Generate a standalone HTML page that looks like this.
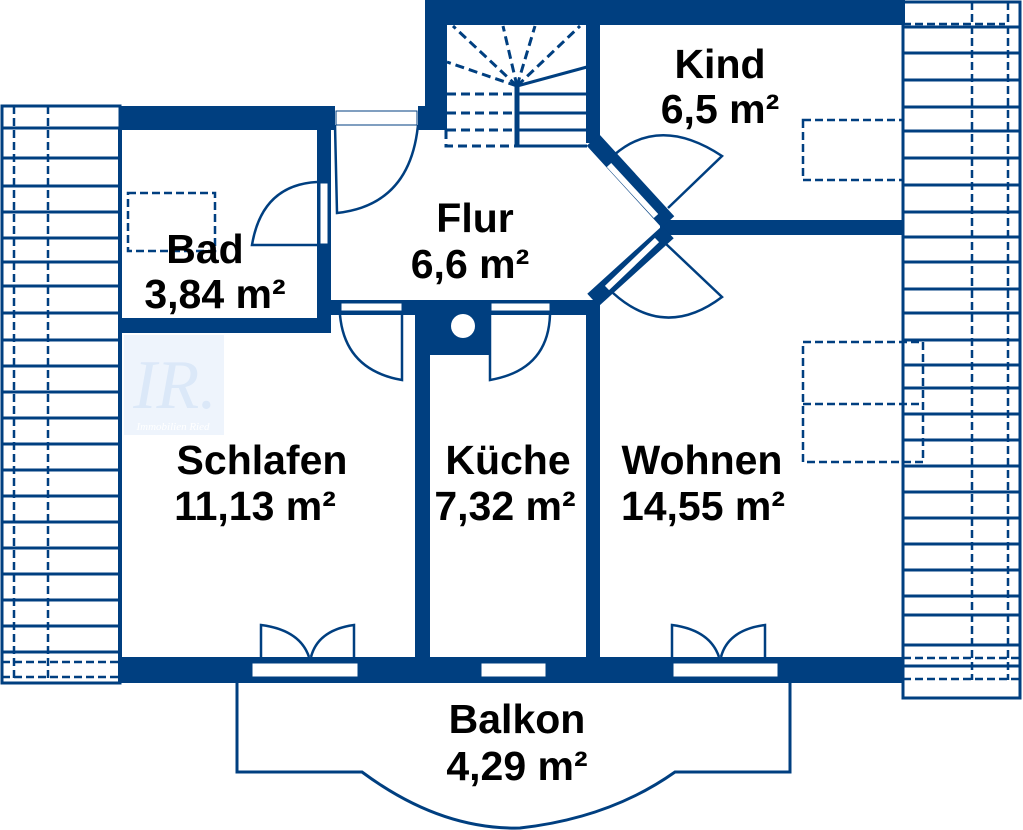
<!DOCTYPE html>
<html><head><meta charset="utf-8"><style>
html,body{margin:0;padding:0;background:#fff;}
svg{display:block;}
text{font-family:"Liberation Sans",sans-serif;font-weight:bold;font-size:41px;fill:#000;text-anchor:middle;}
</style></head><body>
<svg width="1023" height="830" viewBox="0 0 1023 830" xmlns="http://www.w3.org/2000/svg">
<g stroke="#003f80" fill="none">
<!-- left panel -->
<rect x="2" y="106" width="118" height="577" stroke-width="3"/>
<g stroke-width="3">
<line x1="2" y1="128" x2="120" y2="128"/><line x1="2" y1="158" x2="120" y2="158"/><line x1="2" y1="186" x2="120" y2="186"/><line x1="2" y1="212" x2="120" y2="212"/><line x1="2" y1="238" x2="120" y2="238"/><line x1="2" y1="262" x2="120" y2="262"/><line x1="2" y1="286" x2="120" y2="286"/><line x1="2" y1="313" x2="120" y2="313"/><line x1="2" y1="340" x2="120" y2="340"/><line x1="2" y1="366" x2="120" y2="366"/><line x1="2" y1="392" x2="120" y2="392"/><line x1="2" y1="418" x2="120" y2="418"/><line x1="2" y1="444" x2="120" y2="444"/><line x1="2" y1="470" x2="120" y2="470"/><line x1="2" y1="496" x2="120" y2="496"/><line x1="2" y1="522" x2="120" y2="522"/><line x1="2" y1="548" x2="120" y2="548"/><line x1="2" y1="574" x2="120" y2="574"/><line x1="2" y1="600" x2="120" y2="600"/><line x1="2" y1="626" x2="120" y2="626"/><line x1="2" y1="652" x2="120" y2="652"/>
</g>
<g stroke-width="2.5" stroke-dasharray="8,4">
<line x1="14" y1="106" x2="14" y2="683"/><line x1="48" y1="106" x2="48" y2="683"/>
<line x1="2" y1="662" x2="120" y2="662"/><line x1="2" y1="677" x2="120" y2="677"/>
</g>
<!-- right panel -->
<rect x="903" y="2" width="117" height="696" stroke-width="3"/>
<g stroke-width="3">
<line x1="903" y1="27" x2="1020" y2="27"/><line x1="903" y1="53" x2="1020" y2="53"/><line x1="903" y1="80" x2="1020" y2="80"/><line x1="903" y1="107" x2="1020" y2="107"/><line x1="903" y1="131" x2="1020" y2="131"/><line x1="903" y1="158" x2="1020" y2="158"/><line x1="903" y1="185" x2="1020" y2="185"/><line x1="903" y1="212" x2="1020" y2="212"/><line x1="903" y1="237" x2="1020" y2="237"/><line x1="903" y1="262" x2="1020" y2="262"/><line x1="903" y1="289" x2="1020" y2="289"/><line x1="903" y1="313" x2="1020" y2="313"/><line x1="903" y1="340" x2="1020" y2="340"/><line x1="903" y1="365" x2="1020" y2="365"/><line x1="903" y1="388" x2="1020" y2="388"/><line x1="903" y1="414" x2="1020" y2="414"/><line x1="903" y1="440" x2="1020" y2="440"/><line x1="903" y1="466" x2="1020" y2="466"/><line x1="903" y1="492" x2="1020" y2="492"/><line x1="903" y1="518" x2="1020" y2="518"/><line x1="903" y1="544" x2="1020" y2="544"/><line x1="903" y1="570" x2="1020" y2="570"/><line x1="903" y1="596" x2="1020" y2="596"/><line x1="903" y1="615" x2="1020" y2="615"/><line x1="903" y1="645" x2="1020" y2="645"/><line x1="903" y1="666" x2="1020" y2="666"/>
</g>
<g stroke-width="2.5" stroke-dasharray="8,4">
<line x1="972" y1="2" x2="972" y2="680"/><line x1="1008" y1="2" x2="1008" y2="680"/>
<line x1="903" y1="24" x2="1005" y2="24"/>
<line x1="903" y1="658" x2="1020" y2="658"/><line x1="903" y1="679" x2="1020" y2="679"/>
<rect x="803" y="120" width="100" height="60"/>
<rect x="803" y="342" width="120" height="120"/>
<line x1="803" y1="404" x2="923" y2="404"/>
<rect x="128" y="193" width="87" height="58"/>
</g>
<!-- stairs -->
<g stroke-width="3">
<line x1="517" y1="85" x2="517" y2="147" stroke-width="5"/>
<line x1="517" y1="94" x2="587" y2="94"/><line x1="517" y1="113" x2="587" y2="113"/><line x1="517" y1="130" x2="587" y2="130"/><line x1="517" y1="146" x2="587" y2="146"/>
<line x1="517" y1="86" x2="587" y2="67"/>
</g>
<g stroke-width="3" stroke-dasharray="9,5">
<line x1="447" y1="94" x2="517" y2="94"/><line x1="447" y1="113" x2="517" y2="113"/><line x1="447" y1="130" x2="517" y2="130"/>
<polyline points="446,130 446,146 517,146"/>
<line x1="517" y1="86" x2="453" y2="26"/><line x1="517" y1="86" x2="503" y2="26"/><line x1="517" y1="86" x2="535" y2="26"/><line x1="517" y1="86" x2="580" y2="26"/><line x1="517" y1="86" x2="447" y2="62"/>
</g>
<!-- balcony -->
<path d="M237,683 L237,772 L362,772 Q440,830 520,828 Q610,818 675,772 L790,772 L790,683" stroke-width="3"/>
<!-- doors -->
<g stroke-width="2.5">
<path d="M317,245 L252,245 Q262,185 317,182"/>
<path d="M335,125 L337,213 Q410,205 418,125"/>
<path d="M402,315 L402,380 Q345,370 340,315"/>
<path d="M490,315 L490,380 Q548,370 550,315"/>
<path d="M668,208 L722,156 Q660,115 614,155"/>
<path d="M665,243 L722,297 Q665,340 613,293"/>
<path d="M261,657 L261,625 Q300,630 309,657 M354,657 L354,625 Q318,630 311,657"/>
<path d="M672,657 L672,625 Q710,630 719,657 M765,657 L765,625 Q728,630 721,657"/>
</g>
</g>
<!-- walls -->
<g fill="#003f80">
<rect x="425" y="0" width="480" height="25"/>
<rect x="425" y="0" width="22" height="130"/>
<rect x="120" y="106" width="215" height="24"/>
<rect x="418" y="106" width="29" height="24"/>
<rect x="317" y="128" width="14" height="205"/>
<rect x="120" y="318" width="211" height="15"/>
<rect x="330" y="300" width="262" height="15"/>
<rect x="415" y="300" width="75" height="55"/>
<rect x="415" y="300" width="15" height="360"/>
<rect x="586" y="300" width="14" height="360"/>
<rect x="586" y="25" width="14" height="118"/>
<rect x="660" y="220" width="243" height="15"/>
<rect x="120" y="657" width="783" height="26"/>
</g>
<g stroke="#003f80" stroke-width="17" fill="none">
<line x1="593" y1="140" x2="668" y2="222"/>
<line x1="668" y1="232" x2="593" y2="300"/>
</g>
<g stroke="#fff" stroke-width="6">
<line x1="609" y1="165" x2="656" y2="216"/>
<line x1="657" y1="240" x2="607" y2="288"/>
</g>
<line x1="120" y1="128" x2="120" y2="683" stroke="#003f80" stroke-width="4"/>
<g fill="#fff" stroke="#003f80" stroke-width="1">
<rect x="336" y="111" width="81" height="14"/>
<rect x="320" y="183" width="8" height="61"/>
<rect x="341" y="303" width="61" height="8"/>
<rect x="491" y="303" width="59" height="8"/>
<rect x="252" y="663" width="106" height="14"/>
<rect x="481" y="663" width="65" height="14"/>
<rect x="673" y="663" width="105" height="14"/>
</g>
<circle cx="463" cy="326" r="12" fill="#fff"/>
<!-- watermark -->
<rect x="124" y="335" width="100" height="100" fill="#eef4fc"/>
<text x="175" y="408" style="font-family:'Liberation Serif',serif;font-style:italic;font-weight:normal;font-size:70px;fill:#dbe8f8">IR.</text>
<text x="173" y="430" style="font-family:'Liberation Serif',serif;font-style:italic;font-weight:normal;font-size:11px;fill:#fff">Immobilien Ried</text>
<!-- labels -->
<text x="720" y="78">Kind</text>
<text x="720" y="123">6,5 m²</text>
<text x="475" y="232">Flur</text>
<text x="470" y="278">6,6 m²</text>
<text x="205" y="263">Bad</text>
<text x="215" y="308">3,84 m²</text>
<text x="262" y="474">Schlafen</text>
<text x="255" y="520">11,13 m²</text>
<text x="508" y="474">Küche</text>
<text x="505" y="520">7,32 m²</text>
<text x="702" y="474">Wohnen</text>
<text x="703" y="520">14,55 m²</text>
<text x="517" y="733">Balkon</text>
<text x="517" y="780">4,29 m²</text>
</svg>
</body></html>
